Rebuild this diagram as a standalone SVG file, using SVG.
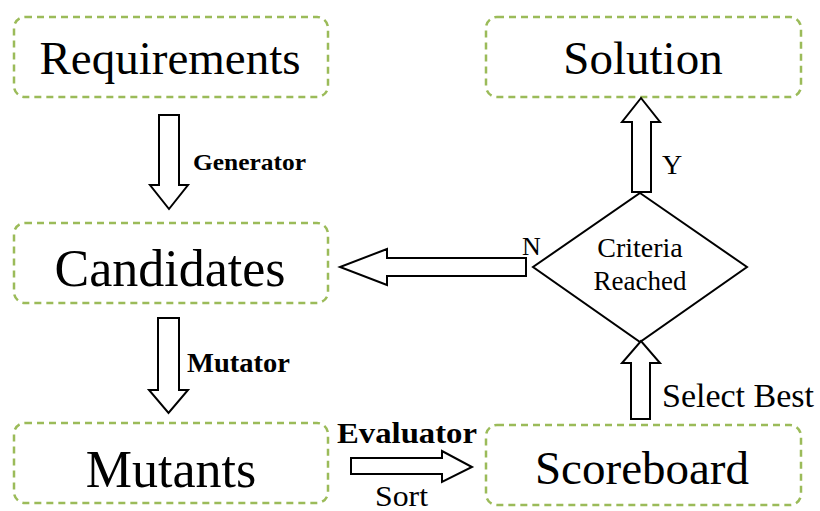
<svg xmlns="http://www.w3.org/2000/svg" width="820" height="511" viewBox="0 0 820 511">
<style>
.box{fill:none;stroke:#9BBB59;stroke-width:2.5;stroke-dasharray:7 5}
.big{font-family:"Liberation Serif","Times New Roman",serif;text-anchor:middle;fill:#000}
.lbl{font-family:"Liberation Serif","Times New Roman",serif;fill:#000}
.b{font-weight:bold}
.arr{fill:#fff;stroke:#000;stroke-width:2;stroke-linejoin:miter}
</style>
<rect width="820" height="511" fill="#fff"/>
<g id="requirements">
<rect class="box" x="14" y="17" width="314" height="80" rx="11"/>
<text class="big" x="170" y="74" font-size="47">Requirements</text>
</g>
<g id="candidates">
<rect class="box" x="14" y="223" width="314" height="80" rx="11"/>
<text class="big" x="170" y="286" font-size="52">Candidates</text>
</g>
<g id="mutants">
<rect class="box" x="14" y="423" width="314" height="80" rx="11"/>
<text class="big" x="171" y="487" font-size="52">Mutants</text>
</g>
<g id="solution">
<rect class="box" x="486" y="17" width="315" height="80" rx="11"/>
<text class="big" x="643" y="74" font-size="47">Solution</text>
</g>
<g id="scoreboard">
<rect class="box" x="486" y="425" width="315" height="80" rx="11"/>
<text class="big" x="642" y="484" font-size="47">Scoreboard</text>
</g>
<g id="criteria">
<polygon points="640,193 747,267 640,342 533,267" fill="#fff" stroke="#000" stroke-width="2"/>
<text class="big" x="640" y="257" font-size="28">Criteria</text>
<text class="big" x="640" y="290" font-size="27">Reached</text>
</g>
<g id="connectors">
<polygon class="arr" points="159,115 179,115 179,185 188,185 169,209 150,185 159,185"/>
<text class="lbl b" x="193" y="170" font-size="24" textLength="113" lengthAdjust="spacingAndGlyphs">Generator</text>
<polygon class="arr" points="158,318 179,318 179,390 188,390 168.5,413 149,390 158,390"/>
<text class="lbl b" x="187" y="372" font-size="27" textLength="103" lengthAdjust="spacingAndGlyphs">Mutator</text>
<polygon class="arr" points="351,458 442,458 442,451 472,467 442,482 442,474 351,474"/>
<text class="lbl b" x="337" y="443" font-size="30" textLength="140" lengthAdjust="spacingAndGlyphs">Evaluator</text>
<text class="lbl" x="375" y="506" font-size="30" textLength="53" lengthAdjust="spacingAndGlyphs">Sort</text>
<polygon class="arr" points="631,419 650,419 650,363 660,363 641,341 622,363 631,363"/>
<text class="lbl" x="662" y="407" font-size="33" textLength="152" lengthAdjust="spacingAndGlyphs">Select Best</text>
<polygon class="arr" points="632,192 651,192 651,122 660,122 641,98 622,122 632,122"/>
<text class="lbl" x="662" y="174" font-size="28">Y</text>
<polygon class="arr" points="526,258 387,258 387,249 340,267 387,285 387,276 526,276"/>
<text class="lbl" x="522" y="255" font-size="26">N</text>
</g>
</svg>
